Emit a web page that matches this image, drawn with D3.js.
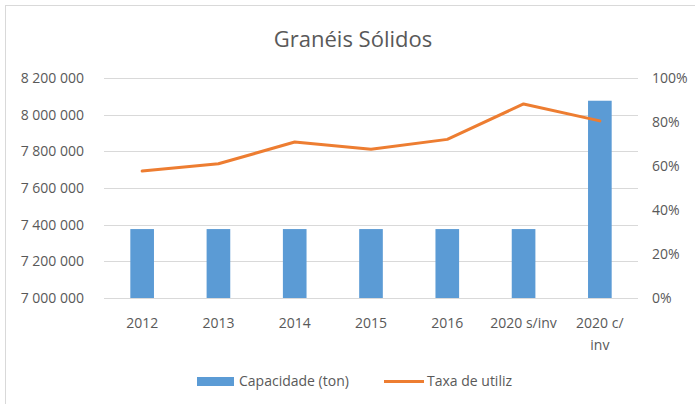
<!DOCTYPE html>
<html lang="pt">
<head>
<meta charset="UTF-8">
<title>Granéis Sólidos</title>
<script src="https://d3js.org/d3.v7.min.js"></script>
<style>
    body { margin: 0; background: #fff; }
    svg text { font-family: "Open Sans", sans-serif; fill: #595959; }
</style>
</head>
<body>
<svg id="chart" width="695" height="404"></svg>
<script>
    // data
    const categories = ["2012", "2013", "2014", "2015", "2016", "2020 s/inv", "2020 c/inv"];
    const categoryLines = [["2012"], ["2013"], ["2014"], ["2015"], ["2016"], ["2020 s/inv"], ["2020 c/", "inv"]];
    const capacidade = [7376000, 7376000, 7376000, 7376000, 7376000, 7376000, 8076000];
    const taxa = [0.577, 0.610, 0.709, 0.676, 0.721, 0.882, 0.805];
    const leftTicks = [7000000, 7200000, 7400000, 7600000, 7800000, 8000000, 8200000];
    const rightTicks = [0, 0.2, 0.4, 0.6, 0.8, 1.0];

    const svg = d3.select("#chart");
    const plot = { left: 104, right: 638, top: 78, bottom: 298 };

    // chart border
    svg.append("rect")
        .attr("x", 5.5).attr("y", 5.5)
        .attr("width", 700).attr("height", 410)
        .attr("fill", "none").attr("stroke", "#d9d9d9");

    svg.append("text")
        .attr("x", 353).attr("y", 47)
        .attr("text-anchor", "middle")
        .style("font-size", "22px")
        .text("Granéis Sólidos");

    const x = d3.scaleBand().domain(categories).range([plot.left, plot.right]).paddingInner(0.69).paddingOuter(0.345);
    const y = d3.scaleLinear().domain([7000000, 8200000]).range([plot.bottom, plot.top]);
    const y2 = d3.scaleLinear().domain([0, 1]).range([plot.bottom, plot.top]);

    // gridlines
    svg.append("g").selectAll("line").data(leftTicks).enter().append("line")
        .attr("x1", plot.left).attr("x2", plot.right)
        .attr("y1", d => Math.round(y(d)) + 0.5).attr("y2", d => Math.round(y(d)) + 0.5)
        .attr("stroke", "#d9d9d9");

    const fmt = d => d3.format(",")(d).replace(/,/g, " ");

    const left = svg.append("g").attr("transform", `translate(${plot.left - 20},0)`)
        .call(d3.axisLeft(y).tickValues(leftTicks).tickFormat(fmt).tickSize(0).tickPadding(0));
    left.select(".domain").remove();
    left.selectAll("text").style("font-size", "14px").attr("fill", "#595959");

    const right = svg.append("g").attr("transform", `translate(${plot.right + 14},0)`)
        .call(d3.axisRight(y2).tickValues(rightTicks).tickFormat(d3.format(".0%")).tickSize(0).tickPadding(0));
    right.select(".domain").remove();
    right.selectAll("text").style("font-size", "14px").attr("fill", "#595959");

    // bars
    svg.append("g").selectAll("rect").data(capacidade).enter().append("rect")
        .attr("x", (d, i) => x(categories[i]))
        .attr("y", d => y(d))
        .attr("width", x.bandwidth())
        .attr("height", d => plot.bottom - y(d))
        .attr("fill", "#5b9bd5");

    // line
    const line = d3.line()
        .x((d, i) => x(categories[i]) + x.bandwidth() / 2)
        .y(d => y2(d));
    svg.append("path").datum(taxa)
        .attr("d", line)
        .attr("fill", "none")
        .attr("stroke", "#ed7d31")
        .attr("stroke-width", 3)
        .attr("stroke-linejoin", "round")
        .attr("stroke-linecap", "round");

    // category labels
    const xl = svg.append("g").selectAll("text").data(categoryLines).enter().append("text")
        .attr("x", (d, i) => x(categories[i]) + x.bandwidth() / 2)
        .attr("y", 328)
        .attr("text-anchor", "middle")
        .style("font-size", "14px");
    xl.selectAll("tspan").data(d => d).enter().append("tspan")
        .attr("x", function () { return d3.select(this.parentNode).attr("x"); })
        .attr("dy", (d, i) => i === 0 ? 0 : 22)
        .text(d => d);

    // legend
    const legend = svg.append("g");
    legend.append("rect").attr("x", 197).attr("y", 377).attr("width", 37).attr("height", 9).attr("fill", "#5b9bd5");
    legend.append("text").attr("x", 239).attr("y", 386).style("font-size", "14px").text("Capacidade (ton)");
    legend.append("line").attr("x1", 384).attr("x2", 424).attr("y1", 381.5).attr("y2", 381.5)
        .attr("stroke", "#ed7d31").attr("stroke-width", 3);
    legend.append("text").attr("x", 427).attr("y", 386).style("font-size", "14px").text("Taxa de utiliz");
</script>
</body>
</html>
